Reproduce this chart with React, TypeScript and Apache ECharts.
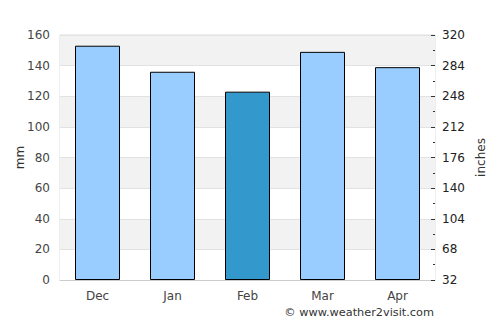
import React, { useEffect, useRef } from "react";
import * as echarts from "echarts";

const categories = ["Dec", "Jan", "Feb", "Mar", "Apr"];
const rainfallMm = [153, 136, 123, 149, 139];
const highlightIndex = 2;
const leftTicks = { min: 0, max: 160, interval: 20 };
const rightTickLabels = [32, 68, 104, 140, 176, 212, 248, 284, 320];

export default function App() {
  const ref = useRef<HTMLDivElement>(null);
  useEffect(() => {
    if (!ref.current) return;
    const chart = echarts.init(ref.current, null, { renderer: "svg" });
    const font = "DejaVu Sans";
    chart.setOption({
      animation: false,
      textStyle: { fontFamily: font },
      grid: {
        left: 60,
        right: 65,
        top: 35,
        bottom: 45,
        containLabel: false,
        outerBoundsMode: "none",
        show: true,
        borderColor: "#dddddd",
        borderWidth: 1,
        backgroundColor: "transparent",
      },
      xAxis: {
        type: "category",
        data: categories,
        axisLine: { show: true, lineStyle: { color: "#cccccc" } },
        axisTick: { show: false },
        axisLabel: { color: "#444", fontSize: 12, margin: 10, fontFamily: font },
      },
      yAxis: [
        {
          type: "value",
          min: leftTicks.min,
          max: leftTicks.max,
          interval: leftTicks.interval,
          name: "mm",
          nameLocation: "middle",
          nameGap: 34,
          nameRotate: 90,
          nameMoveOverlap: false,
          nameTextStyle: { color: "#333", fontSize: 12, fontFamily: font },
          axisLine: { show: false },
          axisTick: { show: false },
          axisLabel: { color: "#444", fontSize: 12, margin: 10, fontFamily: font },
          splitLine: { show: true, lineStyle: { color: "#e2e2e2" } },
          splitArea: { show: true, areaStyle: { color: ["#ffffff", "#f2f2f2"] } },
        },
        {
          type: "value",
          position: "right",
          min: 0,
          max: rightTickLabels[rightTickLabels.length - 1] - rightTickLabels[0],
          interval: rightTickLabels[1] - rightTickLabels[0],
          name: "inches",
          nameLocation: "middle",
          nameGap: 40,
          nameRotate: 90,
          nameMoveOverlap: false,
          nameTextStyle: { color: "#333", fontSize: 12, fontFamily: font },
          axisLine: { show: false },
          axisTick: { show: true, inside: true, length: 4, lineStyle: { color: "#333" } },
          minorTick: { show: true, splitNumber: 2, length: 2, lineStyle: { color: "#333" } },
          axisLabel: {
            color: "#222",
            fontSize: 12,
            margin: 7,
            fontFamily: font,
            formatter: (v: number) => String(v + rightTickLabels[0]),
          },
          splitLine: { show: false },
        },
      ],
      series: [
        {
          type: "bar",
          yAxisIndex: 0,
          barWidth: "60%",
          data: rainfallMm.map((v, i) => ({
            value: v,
            itemStyle: { color: i === highlightIndex ? "#3399cc" : "#99ccff" },
          })),
          itemStyle: { borderColor: "#000", borderWidth: 1 },
        },
      ],
      graphic: [
        {
          type: "text",
          right: 66,
          top: 307,
          style: {
            text: "© www.weather2visit.com",
            fill: "#333",
            font: `11.3px ${font}`,
          },
        },
      ],
    });
    return () => chart.dispose();
  }, []);
  return <div ref={ref} style={{ width: 500, height: 325, margin: -8 }} />;
}
